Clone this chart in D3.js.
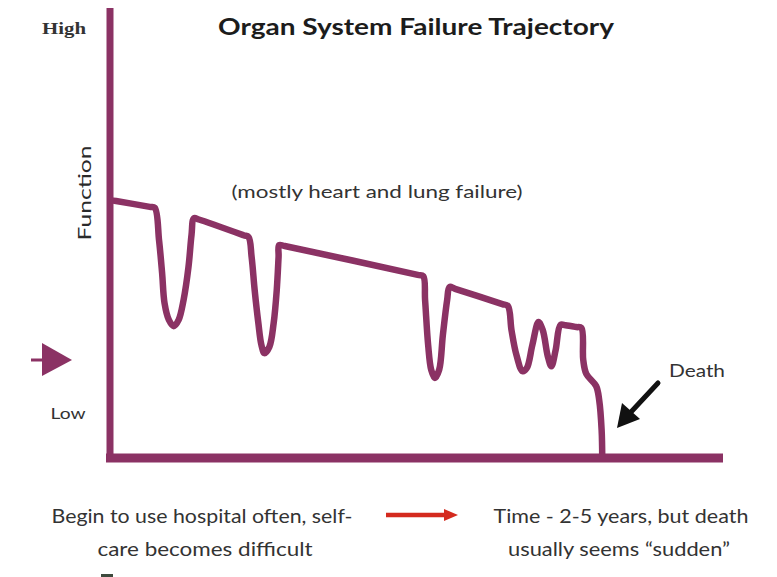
<!DOCTYPE html>
<html><head><meta charset="utf-8">
<script src="https://cdn.jsdelivr.net/npm/d3@7"></script>
<style>
html,body{margin:0;padding:0;background:#fff;}
svg{display:block;}
text{font-family:Lato,"Open Sans",sans-serif;}
</style></head>
<body>
<svg id="c" width="777" height="577"></svg>
<script>
// Trajectory: time (0-100 % of course) and function level (0 = low, 100 = high)
const timePts = [0,1.0,6.5,7.3,8.0,8.5,8.9,9.6,10.4,11.2,12.0,12.8,13.3,13.7,14.5,21.8,22.6,23.1,23.6,24.2,24.7,25.2,26.0,26.7,27.2,27.5,27.6,28.5,
  50.2,51.1,51.4,51.9,52.4,53.0,53.7,54.3,55.0,55.4,56.3,64.0,64.9,65.5,66.3,67.3,68.0,68.9,69.9,70.6,71.4,72.0,72.7,73.5,74.3,
  76.1,76.9,77.2,77.7,79.3,79.8,80.2,80.3];
const functionPts = [57.3,57.1,55.8,55.6,48.4,41.1,34.4,30.7,29.3,30.7,35.1,42.4,49.6,53.3,53.0,49.5,49.1,44.7,37.3,30.0,25.1,23.3,24.7,30.0,37.3,44.7,47.3,47.1,
  40.7,40.4,35.1,25.1,19.6,17.8,19.6,27.3,35.1,38.0,37.6,34.2,33.8,28.4,22.9,19.3,20.0,25.1,30.2,28.4,22.7,20.4,24.0,29.6,29.5,
  29.1,28.9,21.8,18.7,16.0,12.9,6.2,0];
const axisLabels = ["High","Low"];
const axisTitle = "Function";
const titleText = "Organ System Failure Trajectory";
const subtitleText = "(mostly heart and lung failure)";
const deathLabel = "Death";
const footLeft = ["Begin to use hospital often, self-","care becomes difficult"];
const footRight = ["Time  - 2-5 years, but death","usually seems \u201csudden\u201d"];

const purple = "#8b3264";
const svg = d3.select("#c");
const x = d3.scaleLinear().domain([0,100]).range([110,723]);
const y = d3.scaleLinear().domain([0,100]).range([458,8]);

// axes as thick lines
svg.append("line").attr("x1",x(0)).attr("x2",x(0)).attr("y1",y(100)).attr("y2",y(0)+4)
  .attr("stroke",purple).attr("stroke-width",7);
svg.append("line").attr("x1",x(0)-4).attr("x2",x(100)).attr("y1",y(0)).attr("y2",y(0))
  .attr("stroke",purple).attr("stroke-width",9);

// trajectory
const data = timePts.map((t,i)=>({t, f:functionPts[i]}));
const line = d3.line().x(d=>x(d.t)).y(d=>y(d.f)).curve(d3.curveCatmullRom.alpha(0.5));
svg.append("path").attr("d",line(data)).attr("fill","none")
  .attr("stroke",purple).attr("stroke-width",6.5).attr("stroke-linejoin","round").attr("stroke-linecap","butt");

// title & labels
svg.append("text").attr("x",416).attr("y",35).attr("text-anchor","middle")
  .attr("font-size",23).attr("font-weight","bold").attr("fill","#1c1c1c")
  .attr("textLength",396).attr("lengthAdjust","spacingAndGlyphs").text(titleText);
svg.append("text").attr("x",64).attr("y",34).attr("text-anchor","middle")
  .style("font-family","'Liberation Serif',serif").attr("font-size",16).attr("font-weight","bold").attr("fill","#333")
  .attr("textLength",44).attr("lengthAdjust","spacingAndGlyphs").text(axisLabels[0]);
svg.append("text").attr("x",68).attr("y",419).attr("text-anchor","middle")
  .attr("font-size",16).attr("fill","#333")
  .attr("textLength",35).attr("lengthAdjust","spacingAndGlyphs").text(axisLabels[1]);
svg.append("text").attr("transform","translate(91,193) rotate(-90)").attr("text-anchor","middle")
  .attr("font-size",18).attr("fill","#2a2a2a")
  .attr("textLength",95).attr("lengthAdjust","spacingAndGlyphs").text(axisTitle);
svg.append("text").attr("x",377).attr("y",198).attr("text-anchor","middle")
  .attr("font-size",18).attr("fill","#333")
  .attr("textLength",291).attr("lengthAdjust","spacingAndGlyphs").text(subtitleText);
svg.append("text").attr("x",697).attr("y",377).attr("text-anchor","middle")
  .attr("font-size",18).attr("fill","#333")
  .attr("textLength",56).attr("lengthAdjust","spacingAndGlyphs").text(deathLabel);

// left purple arrow
svg.append("line").attr("x1",31).attr("x2",46).attr("y1",360).attr("y2",360).attr("stroke",purple).attr("stroke-width",3);
svg.append("path").attr("d","M42,343 L72,360 L42,376 Z").attr("fill",purple);

// death arrow (black)
svg.append("line").attr("x1",658).attr("y1",383).attr("x2",631).attr("y2",412)
  .attr("stroke","#111").attr("stroke-width",5).attr("stroke-linecap","round");
svg.append("path").attr("d","M617,428 L622,403 L640,419 Z").attr("fill","#111");

// footer texts
const ft = svg.append("g").attr("font-size",20).attr("fill","#333");
ft.append("text").attr("x",202).attr("y",523).attr("text-anchor","middle")
  .attr("textLength",301).attr("lengthAdjust","spacingAndGlyphs").text(footLeft[0]);
ft.append("text").attr("x",205).attr("y",556).attr("text-anchor","middle")
  .attr("textLength",215).attr("lengthAdjust","spacingAndGlyphs").text(footLeft[1]);
ft.append("text").attr("x",621).attr("y",523).attr("text-anchor","middle")
  .attr("textLength",255).attr("lengthAdjust","spacingAndGlyphs").text(footRight[0]);
ft.append("text").attr("x",619).attr("y",556).attr("text-anchor","middle")
  .attr("textLength",222).attr("lengthAdjust","spacingAndGlyphs").text(footRight[1]);

// red arrow
svg.append("line").attr("x1",386).attr("x2",446).attr("y1",515).attr("y2",515).attr("stroke","#d42a1e").attr("stroke-width",4.5);
svg.append("path").attr("d","M444,509 L458,515 L444,521 Z").attr("fill","#d42a1e");

// cut-off mark at bottom
svg.append("rect").attr("x",101).attr("y",574).attr("width",12).attr("height",3).attr("fill","#3d4a3d");
</script>
</body></html>
